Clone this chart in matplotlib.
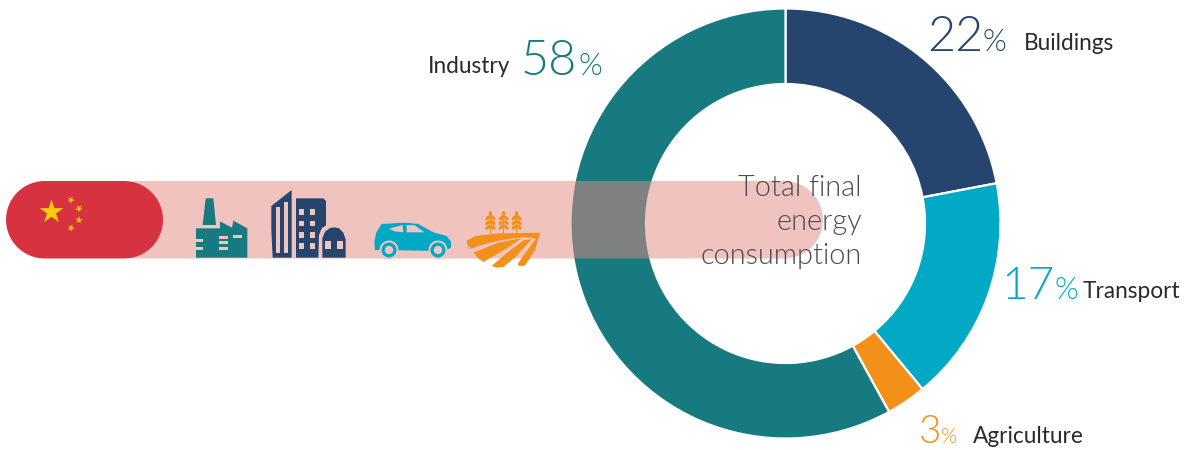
import math
import matplotlib
matplotlib.use('Agg')
import matplotlib.pyplot as plt
from matplotlib.patches import Polygon, Circle, Rectangle, Ellipse

plt.rcParams['font.family'] = ['Lato', 'DejaVu Sans']

# Final energy consumption by sector, China
sectors = ['Buildings', 'Transport', 'Agriculture', 'Industry']
shares = [22, 17, 3, 58]
sector_colors = ['#25456E', '#02A9C5', '#F39019', '#167A80']

BAND = '#E5897F'
BAND_FLAT = '#F2C4BF'
FLAG_RED = '#D7323F'
FLAG_YELLOW = '#FFC90E'
GREY_TEXT = '#4A4A50'

fig = plt.figure(figsize=(11.84, 4.5), dpi=100)
ax = fig.add_axes([0, 0, 1, 1])

# donut, y axis is flipped below so -90 starts at twelve o'clock
ax.pie(shares, colors=sector_colors, startangle=-90, counterclock=True,
       center=(785.5, 223.5), radius=215,
       wedgeprops=dict(width=75.5, edgecolor='white', linewidth=1.6))
ax.set_xlim(0, 1184)
ax.set_ylim(450, 0)
ax.set_aspect('auto')
ax.axis('off')


def pill(x0, x1, y0, y1, z, **kw):
    # stadium outline, true semicircles at both ends
    r = (y1 - y0) / 2
    cy = (y0 + y1) / 2
    pts = []
    for i in range(41):
        a = math.radians(-90 + i * 4.5)
        pts.append((x1 - r + r * math.cos(a), cy + r * math.sin(a)))
    for i in range(41):
        a = math.radians(90 + i * 4.5)
        pts.append((x0 + r + r * math.cos(a), cy + r * math.sin(a)))
    ax.add_patch(Polygon(pts, closed=True, linewidth=0, zorder=z, **kw))


def star(cx, cy, r, rot=0):
    pts = []
    for i in range(10):
        rad = r if i % 2 == 0 else r * 0.382
        a = math.radians(-90 + rot + i * 36)
        pts.append((cx + rad * math.cos(a), cy + rad * math.sin(a)))
    ax.add_patch(Polygon(pts, closed=True, color=FLAG_YELLOW, lw=0, zorder=5))


def zoomed(pts, ox, oy):
    # icon outlines are noted at three times their size
    return [(ox + x / 3, oy + y / 3) for x, y in pts]


def shape(pts, ox, oy, color, z=6):
    ax.add_patch(Polygon(zoomed(pts, ox, oy), closed=True, color=color, lw=0, zorder=z))


def hole(x0, y0, x1, y1, ox, oy, color=BAND_FLAT, z=7):
    ax.add_patch(Rectangle((ox + x0 / 3, oy + y0 / 3), (x1 - x0) / 3, (y1 - y0) / 3,
                           color=color, lw=0, zorder=z))


# band and flag
pill(100, 823, 181, 258.5, 3, color=BAND, alpha=0.505)
pill(6, 163, 181, 258.5, 4, color=FLAG_RED)
star(51.5, 212, 12.5)
star(71, 200, 4, 20)
star(79, 208.5, 4, 40)
star(79, 220, 4, 10)
star(71, 228, 4, 20)

# factory
teal = sector_colors[3]
ox, oy = 190, 180
shape([(38, 135), (47, 55), (70, 55), (78, 135)], ox, oy, teal)
shape([(18, 145), (90, 145), (90, 124), (126, 143), (130, 122), (172, 145),
       (172, 233), (18, 233)], ox, oy, teal)
for box in [(18, 177, 40, 187), (18, 200, 40, 210), (88, 167, 113, 176),
            (88, 183, 113, 192), (88, 200, 113, 209), (128, 165, 155, 175)]:
    hole(*box, ox, oy)

# buildings
navy = sector_colors[0]
shape([(244, 78), (305, 30), (305, 233), (248, 233), (244, 150)], ox, oy, navy)
hole(258, 80, 270, 218, ox, oy)
hole(283, 65, 295, 218, ox, oy)
shape([(318, 55), (400, 55), (408, 63), (408, 136), (395, 145), (387, 165),
       (385, 233), (318, 233)], ox, oy, navy)
for wy in (88, 122, 156, 190):
    hole(328, wy, 342, wy + 17, ox, oy)
    hole(360, wy, 374, wy + 17, ox, oy)
shape([(397, 233), (397, 175), (405, 155), (420, 144), (433, 142), (447, 145),
       (460, 158), (467, 178), (467, 233)], ox, oy, navy)
hole(405, 183, 422, 207, ox, oy)
hole(440, 183, 458, 207, ox, oy)

# car
cyan = sector_colors[1]
ox, oy = 365, 200
shape([(28, 125), (34, 97), (50, 72), (120, 68), (160, 72), (205, 97), (245, 108),
       (258, 125), (258, 143), (240, 153), (30, 150)], ox, oy, cyan)
shape([(72, 86), (113, 75), (115, 97), (88, 94)], ox, oy, BAND_FLAT, 7)
shape([(125, 75), (150, 76), (178, 97), (125, 97)], ox, oy, BAND_FLAT, 7)
for wx in (72, 219):
    c = (ox + wx / 3, oy + 150 / 3)
    ax.add_patch(Circle(c, 9.5, color=BAND_FLAT, lw=0, zorder=7))
    ax.add_patch(Circle(c, 7.5, color=cyan, lw=0, zorder=8))
    ax.add_patch(Circle(c, 4.2, color=BAND_FLAT, lw=0, zorder=9))

# field and wheat
orange = sector_colors[2]
shape([(305, 122), (330, 108), (400, 100), (525, 98), (518, 118), (492, 112), (470, 112),
       (400, 122), (345, 136), (320, 146), (308, 138)], ox, oy, orange)
shape([(325, 158), (400, 128), (472, 114), (425, 145), (355, 186), (340, 175)], ox, oy, orange)
shape([(380, 198), (430, 155), (478, 120), (500, 118), (450, 172), (415, 201), (395, 203)], ox, oy, orange)
shape([(458, 192), (480, 160), (510, 120), (525, 100), (510, 150), (480, 197), (462, 198)], ox, oy, orange)
for wx in (376, 416, 455):
    shape([(wx - 1.5, 40), (wx + 1.5, 40), (wx + 1.5, 102), (wx - 1.5, 102)], ox, oy, orange)
    cx = ox + wx / 3
    ax.add_patch(Ellipse((cx, oy + 42 / 3), 3.4, 6, color=orange, lw=0, zorder=6))
    for wy in (54, 68, 82):
        for side in (-1, 1):
            ax.add_patch(Ellipse((cx + side * 2.5, oy + wy / 3), 6, 3.4,
                                 angle=side * 40, color=orange, lw=0, zorder=6))

# centre caption
for line, y in zip(['Total final', 'energy', 'consumption'], [196, 230, 264]):
    ax.text(862, y, line, ha='right', va='baseline', fontsize=20.8, color=GREY_TEXT,
            fontweight=300, zorder=10)

# sector labels: big number, small percent sign, sector name
label_pos = {
    'Buildings': (927, 51, 35, 982, 22, 1024, 50),
    'Transport': (1001, 299, 33, 1054.5, 22, 1083, 298),
    'Agriculture': (919, 443, 28, 941, 15, 973, 443),
    'Industry': (521, 75, 35, 578, 22, 428, 73),
}
for name, share, color in zip(sectors, shares, sector_colors):
    x_num, base, fs_num, x_pct, fs_pct, x_name, name_y = label_pos[name]
    ax.text(x_num, base, str(share), fontsize=fs_num, color=color, fontweight=300, va='baseline')
    ax.text(x_pct, base, '%', fontsize=fs_pct, color=color, fontweight=300, va='baseline')
    ax.text(x_name, name_y, name, fontsize=16.3, color='#2A2A2E', va='baseline')

fig.savefig('out.png', dpi=100)
